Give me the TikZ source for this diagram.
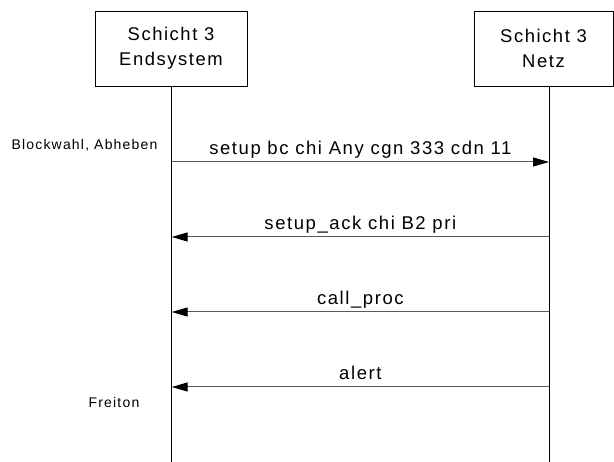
\documentclass[tikz,border=0pt]{standalone}
\usepackage{fontspec}
\setmainfont{Liberation Sans}[LetterSpace=8.5]
\usetikzlibrary{arrows.meta}

\begin{document}
\begin{tikzpicture}
[x=1pt,y=-1pt,
  boxDecorate/.style={shape=rectangle,draw,line width=0.8pt,inner sep=0pt,align=center,minimum height=75pt,font=\fontsize{18.4}{25}\selectfont},
  lifeDecorate/.style={draw,line width=0.8pt},
  lineDecorate/.style={-{Triangle[length=16pt,width=9pt,color=black]},draw=black!65,line width=1pt},
  msgDecorate/.style={midway,above=7.4pt,inner sep=0pt,text depth=0pt,font=\fontsize{18.5}{21}\selectfont},
  noteDecorate/.style={anchor=base,inner sep=0pt,font=\fontsize{14}{16}\selectfont}]
\useasboundingbox (0,0) rectangle (614,462);
%% entities
\node (endsys) at (171,48.5) [boxDecorate,minimum width=152pt] {Schicht 3\\Endsystem};
\node (netz) at (543.5,48.5) [boxDecorate,minimum width=139pt] {Schicht 3\\Netz};
%% lifelines
\coordinate (endsysBot) at (171.7,462);
\coordinate (netzBot) at (549,462);
\draw[lifeDecorate] (endsys.south -| endsysBot) -- (endsysBot);
\draw[lifeDecorate] (netz.south -| netzBot) -- (netzBot);
%% message points
\foreach \y in {162,237,312,387}
{
  \coordinate (es\y) at (171.7,\y);
  \coordinate (nz\y) at (549,\y);
}
%% messages
\foreach \startnode/\endnode/\txt in {
  es162/nz162/{setup bc chi Any cgn 333 cdn 11},
  nz237/es237/{setup\_ack chi B2 pri},
  nz312/es312/{call\_proc},
  nz387/es387/{alert}}
{
  \draw[lineDecorate] (\startnode) -- (\endnode) node[msgDecorate] {\txt};
}
%% notes
\node (wahl) at (84.5,150) [noteDecorate] {Blockwahl, Abheben};
\node (freiton) at (114,408) [noteDecorate] {Freiton};
\end{tikzpicture}
\end{document}
